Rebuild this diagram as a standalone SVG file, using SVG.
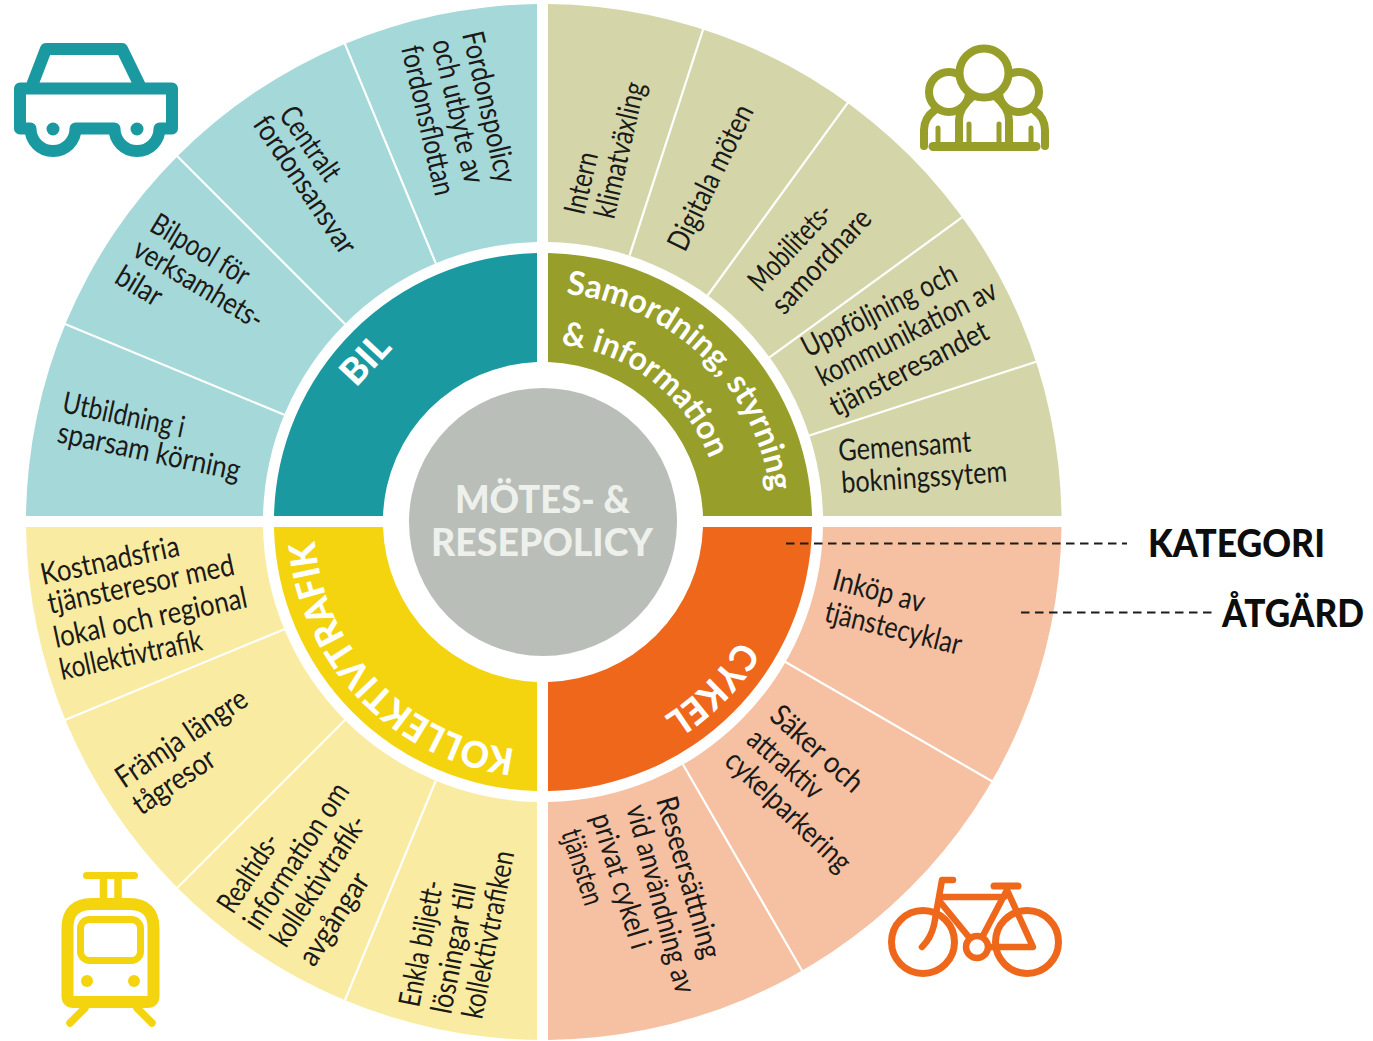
<svg xmlns="http://www.w3.org/2000/svg" width="1373" height="1041" viewBox="0 0 1373 1041">
<style>
text{font-family:"Lato","Liberation Sans",sans-serif}
.t{font-size:30px;fill:#1a1a18}
.k{font-size:37px;font-weight:900;fill:#fff}
.s{font-size:33px;font-weight:700;fill:#fff}
.m{font-size:38px;font-weight:900;fill:#eef0ec}
.l{font-size:38px;font-weight:900;fill:#0d0d0d}
.d{stroke:#fff;stroke-width:2.2;fill:none}
.c{stroke:#1c1c1a;stroke-width:2;stroke-dasharray:8.500 5.500;fill:none}
.i{fill:none;stroke-linecap:round;stroke-linejoin:round}
</style>
<defs>
<path id="pk" d="M515,749 A229,229 0 0 1 315,502"/>
<path id="pc" d="M739,640 A229,229 0 0 1 602,743"/>
<path id="ps" d="M566,294 A229,229 0 0 1 771,542"/>
<path id="pi" d="M561,345 A178,178 0 0 1 721,522"/>
</defs>
<rect width="1373" height="1041" fill="#fff"/>

<g id="samordning">
<path fill="#d4d6a9" d="M548,4 A518.5,518.5 0 0 1 1061.500,516 H823 A280,280 0 0 0 548,242 Z"/>
<path class="d" d="M629.5,255.7 L703.7,27.500 M707.6,295.500 L848.8,101.300 M769.5,357.400 L963.7,216.200 M809.3,435.500 L1037.5,361.300"/>
<path fill="#979e2a" d="M548,253 A269,269 0 0 1 812,516 H703 A160,160 0 0 0 548,362 Z"/>
<text class="s"><textPath href="#ps" textLength="306" lengthAdjust="spacingAndGlyphs">Samordning, styrning</textPath></text>
<text class="s"><textPath href="#pi" textLength="197" lengthAdjust="spacingAndGlyphs">&amp; information</textPath></text>
<text class="t" transform="translate(584 216) rotate(-77)" textLength="63" lengthAdjust="spacingAndGlyphs">Intern</text>
<text class="t" transform="translate(614 220) rotate(-77)" textLength="139" lengthAdjust="spacingAndGlyphs">klimatväxling</text>
<text class="t" transform="translate(685 253) rotate(-64)" textLength="158" lengthAdjust="spacingAndGlyphs">Digitala möten</text>
<text class="t" transform="translate(761 293) rotate(-47)" textLength="108" lengthAdjust="spacingAndGlyphs">Mobilitets-</text>
<text class="t" transform="translate(784 316) rotate(-47)" textLength="131" lengthAdjust="spacingAndGlyphs">samordnare</text>
<text class="t" transform="translate(808 358) rotate(-27)" textLength="170" lengthAdjust="spacingAndGlyphs">Uppföljning och</text>
<text class="t" transform="translate(823 387) rotate(-27)" textLength="198" lengthAdjust="spacingAndGlyphs">kommunikation av</text>
<text class="t" transform="translate(836 417) rotate(-27)" textLength="174" lengthAdjust="spacingAndGlyphs">tjänsteresandet</text>
<text class="t" transform="translate(839 461) rotate(-4)" textLength="133" lengthAdjust="spacingAndGlyphs">Gemensamt</text>
<text class="t" transform="translate(842 493) rotate(-4)" textLength="166" lengthAdjust="spacingAndGlyphs">bokningssytem</text>
<g class="i" stroke="#979e2a">
<circle cx="949" cy="92" r="20" fill="#fff" stroke-width="8"/>
<circle cx="1019" cy="92" r="20" fill="#fff" stroke-width="8"/>
<path stroke-width="8" d="M959,146 V120 Q959,108 973,96 M1009,146 V120 Q1009,108 995,96 M924,146 V130 Q924,118 935,110 M1045,146 V130 Q1045,118 1034,110"/>
<circle cx="984" cy="73" r="24.500" fill="#fff" stroke-width="8"/>
<path stroke-width="9" d="M933,146.500 H1036"/>
<path stroke-width="5" d="M969,124 V142 M999,124 V142 M938,128 V142 M1031,128 V142"/>
</g>
</g>

<g id="bil">
<path fill="#a5d8d9" d="M537,4 A518.5,518.5 0 0 0 26,516 H263 A280,280 0 0 1 537,242 Z"/>
<path class="d" d="M435.8,263.300 L344,41.600 M345,324 L175.300,154.300 M284.3,414.800 L62.600,323"/>
<path fill="#1a9aa0" d="M537,253 A269,269 0 0 0 274,516 H383 A160,160 0 0 1 537,362 Z"/>
<text class="k" transform="translate(356 388) rotate(-47)" textLength="54" lengthAdjust="spacingAndGlyphs">BIL</text>
<text class="t" transform="translate(462 34) rotate(77)" textLength="155" lengthAdjust="spacingAndGlyphs">Fordonspolicy</text>
<text class="t" transform="translate(432 42) rotate(77)" textLength="147" lengthAdjust="spacingAndGlyphs">och utbyte av</text>
<text class="t" transform="translate(401 48) rotate(77)" textLength="153" lengthAdjust="spacingAndGlyphs">fordonsflottan</text>
<text class="t" transform="translate(278 115) rotate(55)" textLength="84" lengthAdjust="spacingAndGlyphs">Centralt</text>
<text class="t" transform="translate(252 124) rotate(56)" textLength="160" lengthAdjust="spacingAndGlyphs">fordonsansvar</text>
<text class="t" transform="translate(148 230) rotate(31)" textLength="110" lengthAdjust="spacingAndGlyphs">Bilpool för</text>
<text class="t" transform="translate(131 255) rotate(31)" textLength="146" lengthAdjust="spacingAndGlyphs">verksamhets-</text>
<text class="t" transform="translate(113 282) rotate(31)" textLength="49" lengthAdjust="spacingAndGlyphs">bilar</text>
<text class="t" transform="translate(61 412) rotate(12)" textLength="124" lengthAdjust="spacingAndGlyphs">Utbildning i</text>
<text class="t" transform="translate(56 442) rotate(12)" textLength="186" lengthAdjust="spacingAndGlyphs">sparsam körning</text>
<g class="i" stroke="#1a9aa0">
<path stroke-width="12" d="M20,88.500 H172 V128.500 H159.500 A22.500,22.500 0 0 1 114.500,128.500 H75.500 A22.500,22.500 0 0 1 30.500,128.500 H20 Z M31,88 L46,49 H122 L141,88"/>
<circle cx="53" cy="129" r="6.500" fill="#1a9aa0" stroke="none"/>
<circle cx="137" cy="129" r="6.500" fill="#1a9aa0" stroke="none"/>
</g>
</g>

<g id="kollektivtrafik">
<path fill="#faeba2" d="M26,527 A518.5,518.5 0 0 0 537,1040 V802 A280,280 0 0 1 263,527 Z"/>
<path class="d" d="M284.3,629.200 L62.600,721 M345,720 L175.300,889.700 M435.8,780.700 L344,1002.400"/>
<path fill="#f4d40f" d="M274,527 A269,269 0 0 0 537,791 V682 A160,160 0 0 1 383,527 Z"/>
<text class="k"><textPath href="#pk" textLength="312" lengthAdjust="spacingAndGlyphs">KOLLEKTIVTRAFIK</textPath></text>
<text class="t" transform="translate(43 585) rotate(-12)" textLength="141" lengthAdjust="spacingAndGlyphs">Kostnadsfria</text>
<text class="t" transform="translate(50 614) rotate(-12)" textLength="190" lengthAdjust="spacingAndGlyphs">tjänsteresor med</text>
<text class="t" transform="translate(56 648) rotate(-12)" textLength="197" lengthAdjust="spacingAndGlyphs">lokal och regional</text>
<text class="t" transform="translate(62 680) rotate(-12)" textLength="145" lengthAdjust="spacingAndGlyphs">kollektivtrafik</text>
<text class="t" transform="translate(124 789) rotate(-34)" textLength="152" lengthAdjust="spacingAndGlyphs">Främja längre</text>
<text class="t" transform="translate(141 816) rotate(-34)" textLength="93" lengthAdjust="spacingAndGlyphs">tågresor</text>
<text class="t" transform="translate(233 915) rotate(-57)" textLength="88" lengthAdjust="spacingAndGlyphs">Realtids-</text>
<text class="t" transform="translate(259 932) rotate(-57)" textLength="168" lengthAdjust="spacingAndGlyphs">information om</text>
<text class="t" transform="translate(286 949) rotate(-57)" textLength="150" lengthAdjust="spacingAndGlyphs">kollektivtrafik-</text>
<text class="t" transform="translate(314 968) rotate(-57)" textLength="104" lengthAdjust="spacingAndGlyphs">avgångar</text>
<text class="t" transform="translate(419 1008) rotate(-79)" textLength="128" lengthAdjust="spacingAndGlyphs">Enkla biljett-</text>
<text class="t" transform="translate(451 1015) rotate(-79)" textLength="132" lengthAdjust="spacingAndGlyphs">lösningar till</text>
<text class="t" transform="translate(482 1020) rotate(-79)" textLength="170" lengthAdjust="spacingAndGlyphs">kollektivtrafiken</text>
<g class="i" stroke="#f4d40f">
<path stroke-width="7" d="M86.500,875.500 H134.500"/>
<path stroke-width="7.500" stroke-linecap="butt" d="M103.500,876 V900 M118,876 V900"/>
<path stroke-width="12" d="M92,904 H129 Q153.500,904 153.500,928 V996 Q153.500,1002 147.500,1002 H73.500 Q67.500,1002 67.500,996 V928 Q67.500,904 92,904 Z"/>
<rect x="80.500" y="919.500" width="60" height="41" rx="9" stroke-width="7"/>
<circle cx="87" cy="981" r="6" fill="#f4d40f" stroke="none"/>
<circle cx="134" cy="981" r="6" fill="#f4d40f" stroke="none"/>
<path stroke-width="7.500" d="M85,1008 L70,1023 M137,1008 L152,1023"/>
</g>
</g>

<g id="cykel">
<path fill="#f6c0a2" d="M1061.500,527 A518.5,518.5 0 0 1 548,1040 V802 A280,280 0 0 0 823,527 Z"/>
<path class="d" d="M785.500,662 L993.300,782 M683,764.500 L803,972.300"/>
<path fill="#ef671a" d="M812,527 A269,269 0 0 1 548,791 V682 A160,160 0 0 0 703,527 Z"/>
<text class="k"><textPath href="#pc" textLength="108" lengthAdjust="spacingAndGlyphs">CYKEL</textPath></text>
<text class="t" transform="translate(831 589) rotate(14.500)" textLength="94" lengthAdjust="spacingAndGlyphs">Inköp av</text>
<text class="t" transform="translate(823 621) rotate(14)" textLength="140" lengthAdjust="spacingAndGlyphs">tjänstecyklar</text>
<text class="t" transform="translate(768 718) rotate(42)" textLength="114" lengthAdjust="spacingAndGlyphs">Säker och</text>
<text class="t" transform="translate(745 742) rotate(41)" textLength="90" lengthAdjust="spacingAndGlyphs">attraktiv</text>
<text class="t" transform="translate(723 763) rotate(43.500)" textLength="161" lengthAdjust="spacingAndGlyphs">cykelparkering</text>
<text class="t" transform="translate(656 800) rotate(74)" textLength="167" lengthAdjust="spacingAndGlyphs">Reseersättning</text>
<text class="t" transform="translate(626 808) rotate(75)" textLength="194" lengthAdjust="spacingAndGlyphs">vid användning av</text>
<text class="t" transform="translate(591 817) rotate(73)" textLength="140" lengthAdjust="spacingAndGlyphs">privat cykel i</text>
<text class="t" transform="translate(561 833) rotate(72)" textLength="78" lengthAdjust="spacingAndGlyphs">tjänsten</text>
<g class="i" stroke="#ef671a">
<circle cx="923" cy="942" r="31.500" stroke-width="7"/>
<circle cx="1027" cy="942" r="31.500" stroke-width="7"/>
<path stroke-width="6.500" d="M953,880 H942 L934,925 Q931,938 922,947 M942,897 H1004 M941,903 L977,947 L1007,890 L1033,947 H988"/>
<path stroke-width="7" d="M994,886 H1018"/>
<circle cx="977" cy="947" r="11" fill="#fff" stroke-width="6.500"/>
</g>
</g>

<g id="center">
<circle cx="543" cy="522" r="134" fill="#b9beb9"/>
<text class="m" x="455" y="513" textLength="175" lengthAdjust="spacingAndGlyphs">MÖTES- &amp;</text>
<text class="m" x="431" y="556" textLength="222" lengthAdjust="spacingAndGlyphs">RESEPOLICY</text>
</g>

<g id="connectors">
<path class="c" d="M786,543.500 H1127"/>
<path class="c" d="M1021,612.500 H1214"/>
</g>
<g id="legend-kategori"><text class="l" x="1148" y="557" textLength="177" lengthAdjust="spacingAndGlyphs">KATEGORI</text></g>
<g id="legend-atgard"><text class="l" x="1222" y="627" textLength="142" lengthAdjust="spacingAndGlyphs">ÅTGÄRD</text></g>
</svg>
